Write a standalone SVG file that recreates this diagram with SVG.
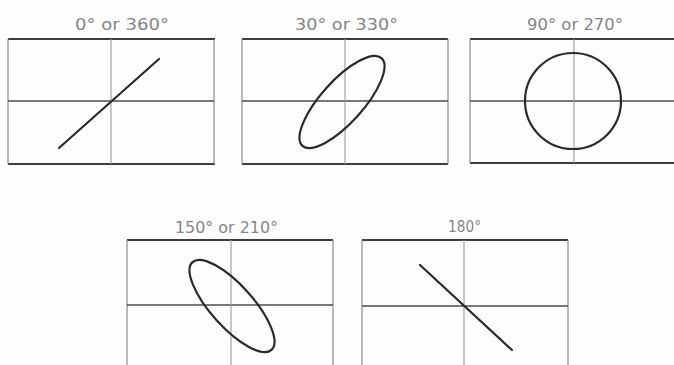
<svg xmlns="http://www.w3.org/2000/svg" width="674" height="365" viewBox="0 0 674 365">
<style>
.bg{fill:#fefefe}
.hb{stroke:#3c3c48;stroke-width:2;fill:none}
.vb{stroke:#8a8a8a;stroke-width:1.2;fill:none}
.hm{stroke:#4a4a52;stroke-width:1.6;fill:none}
.vm{stroke:#9a9a9a;stroke-width:1.1;fill:none}
.tr{stroke:#2a2a2a;stroke-width:2.2;fill:none;stroke-linecap:round}
.t{font-family:"DejaVu Sans","Liberation Sans",sans-serif;font-size:15px;fill:#858585;text-anchor:start}
</style>
<rect class="bg" x="0" y="0" width="674" height="365"/>
<g id="panel-0">
<text class="t" x="75" y="30" textLength="94" lengthAdjust="spacingAndGlyphs">0° or 360°</text>
<line class="hb" x1="8" y1="39" x2="215" y2="39"/>
<line class="hb" x1="8" y1="164" x2="215" y2="164"/>
<line class="vb" x1="8" y1="39" x2="8" y2="164"/>
<line class="vb" x1="214" y1="39" x2="214" y2="164"/>
<line class="hm" x1="8" y1="101" x2="214" y2="101"/>
<line class="vm" x1="111" y1="39" x2="111" y2="164"/>
<line class="tr" x1="59" y1="148" x2="159" y2="59"/>
</g>
<g id="panel-30">
<text class="t" x="295" y="30" textLength="103" lengthAdjust="spacingAndGlyphs">30° or 330°</text>
<line class="hb" x1="242" y1="39" x2="448" y2="39"/>
<line class="hb" x1="242" y1="164" x2="448" y2="164"/>
<line class="vb" x1="242" y1="39" x2="242" y2="164"/>
<line class="vb" x1="448" y1="39" x2="448" y2="164"/>
<line class="hm" x1="242" y1="101" x2="448" y2="101"/>
<line class="vm" x1="345" y1="39" x2="345" y2="164"/>
<ellipse class="tr" cx="0" cy="0" rx="59" ry="21" transform="translate(342,102) rotate(-48)"/>
</g>
<g id="panel-90">
<text class="t" x="527" y="30" textLength="96" lengthAdjust="spacingAndGlyphs">90° or 270°</text>
<line class="hb" x1="470" y1="39" x2="674" y2="39"/>
<line class="hb" x1="470" y1="163" x2="674" y2="163"/>
<line class="vb" x1="470" y1="39" x2="470" y2="163"/>
<line class="hm" x1="470" y1="101" x2="674" y2="101"/>
<line class="vm" x1="574" y1="39" x2="574" y2="163"/>
<circle class="tr" cx="573" cy="101" r="48"/>
</g>
<g id="panel-150">
<text class="t" x="175" y="233" textLength="103" lengthAdjust="spacingAndGlyphs">150° or 210°</text>
<line class="hb" x1="127" y1="240" x2="333" y2="240"/>
<line class="vb" x1="127" y1="240" x2="127" y2="365"/>
<line class="vb" x1="333" y1="240" x2="333" y2="365"/>
<line class="hm" x1="127" y1="305" x2="333" y2="305"/>
<line class="vm" x1="231" y1="240" x2="231" y2="365"/>
<ellipse class="tr" cx="0" cy="0" rx="59" ry="21" transform="translate(232,306) rotate(48)"/>
</g>
<g id="panel-180">
<text class="t" x="448" y="232" textLength="33" lengthAdjust="spacingAndGlyphs">180°</text>
<line class="hb" x1="362" y1="240" x2="568" y2="240"/>
<line class="vb" x1="362" y1="240" x2="362" y2="365"/>
<line class="vb" x1="568" y1="240" x2="568" y2="365"/>
<line class="hm" x1="362" y1="306" x2="568" y2="306"/>
<line class="vm" x1="464" y1="240" x2="464" y2="365"/>
<line class="tr" x1="420" y1="265" x2="512" y2="350"/>
</g>
</svg>
